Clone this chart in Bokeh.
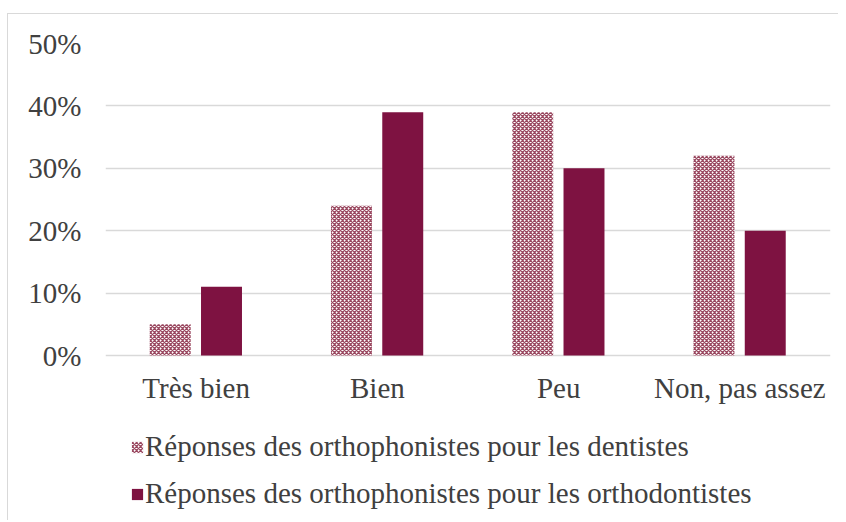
from bokeh.plotting import figure
from bokeh.models import (ColumnDataSource, FactorRange, Legend, LegendItem,
                          NumeralTickFormatter, FixedTicker, Range1d)
from bokeh.core.properties import value
from bokeh.transform import dodge
from bokeh.embed import file_html
from bokeh.resources import INLINE

categories = ["Très bien", "Bien", "Peu", "Non, pas assez"]
dentistes = [0.05, 0.24, 0.39, 0.32]
orthodontistes = [0.11, 0.39, 0.30, 0.20]
series_names = ["Réponses des orthophonistes pour les dentistes",
                "Réponses des orthophonistes pour les orthodontistes"]
y_ticks = [0, 0.1, 0.2, 0.3, 0.4, 0.5]

FONT = "Liberation Serif"
TXT = "#404040"
GRID = "#d9d9d9"
MAROON = "#7e1241"
CHECK = "#9a4860"

# layout: plotting area of 312 px for 0..50 %, frame extended below for labels + legend
PLOT_H = 312
FRAME_H = 477
PX_PER_UNIT = PLOT_H / 0.5
y_start = -(FRAME_H - PLOT_H) / PX_PER_UNIT
label_y = -32 / PX_PER_UNIT

src = ColumnDataSource(dict(cat=categories, d=dentistes, o=orthodontistes))

p = figure(x_range=FactorRange(*categories, range_padding=0),
           y_range=Range1d(y_start, 0.5),
           frame_width=725, frame_height=FRAME_H,
           min_border_left=97, min_border_top=29, min_border_right=8, min_border_bottom=0,
           output_backend="svg", toolbar_location=None,
           styles={"border-left": f"1px solid {GRID}", "border-top": f"1px solid {GRID}",
                   "margin-left": "7px", "margin-top": "13px"})

r1 = p.vbar(x=dodge("cat", -0.143, range=p.x_range), top="d", width=0.226, source=src,
            fill_color="white", line_color=None,
            hatch_pattern="diagonal_cross", hatch_color=CHECK, hatch_scale=4, hatch_weight=1.3)
r2 = p.vbar(x=dodge("cat", 0.14, range=p.x_range), top="o", width=0.226, source=src,
            fill_color=MAROON, line_color=None)

# category labels under the 0 % line
p.text(x="cat", y=label_y, text="cat", source=src,
       text_align="center", text_baseline="alphabetic",
       text_font=value(FONT), text_font_size="29px", text_color=TXT)

p.yaxis.ticker = FixedTicker(ticks=y_ticks)
p.yaxis.formatter = NumeralTickFormatter(format="0%")
p.yaxis.major_label_text_font = FONT
p.yaxis.major_label_text_font_size = "29px"
p.yaxis.major_label_text_color = TXT
p.yaxis.major_tick_line_color = None
p.yaxis.minor_tick_line_color = None
p.yaxis.axis_line_color = None
p.yaxis.major_label_standoff = 18
p.xaxis.visible = False

p.xgrid.grid_line_color = None
p.ygrid.grid_line_color = GRID
p.ygrid.grid_line_width = 1.5
p.outline_line_color = None

legend = Legend(items=[LegendItem(label=series_names[0], renderers=[r1]),
                       LegendItem(label=series_names[1], renderers=[r2])],
                location=(25, 10), orientation="vertical",
                glyph_width=14, glyph_height=14, label_standoff=1,
                label_text_font=FONT, label_text_font_size="29px", label_text_color=TXT,
                border_line_color=None, background_fill_alpha=0,
                padding=0, spacing=14, margin=0)
p.add_layout(legend, "center")

open("out.html", "w").write(file_html(p, INLINE))
